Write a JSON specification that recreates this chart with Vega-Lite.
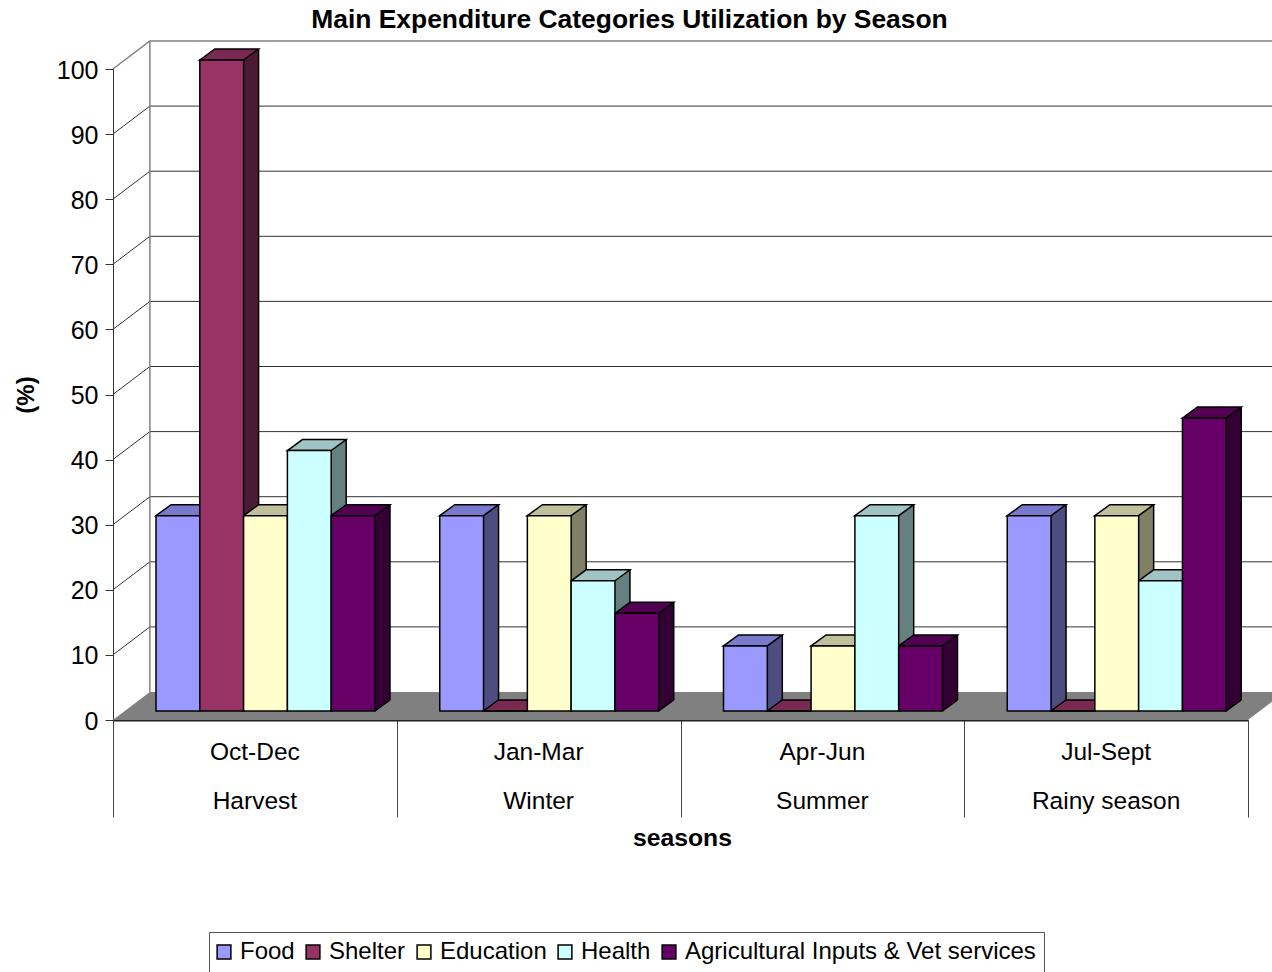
{
"$schema":"https://vega.github.io/schema/vega-lite/v6.json",
"autosize":{"type":"none"},
"width":1135,"height":651,
"padding":{"left":113,"top":69,"right":24,"bottom":252},
"background":"white",
"title":{"text":"Main Expenditure Categories Utilization by Season","font":"Liberation Sans","fontSize":26.4,"fontWeight":"bold","color":"black","anchor":"middle","dx":-51,"offset":5},
"config":{"view":{"stroke":null},"font":"Liberation Sans"},
"data":{"values":[
{"season":"Oct-Dec","category":"Food","value":30},
{"season":"Oct-Dec","category":"Shelter","value":100},
{"season":"Oct-Dec","category":"Education","value":30},
{"season":"Oct-Dec","category":"Health","value":40},
{"season":"Oct-Dec","category":"Agricultural Inputs & Vet services","value":30},
{"season":"Jan-Mar","category":"Food","value":30},
{"season":"Jan-Mar","category":"Shelter","value":0},
{"season":"Jan-Mar","category":"Education","value":30},
{"season":"Jan-Mar","category":"Health","value":20},
{"season":"Jan-Mar","category":"Agricultural Inputs & Vet services","value":15},
{"season":"Apr-Jun","category":"Food","value":10},
{"season":"Apr-Jun","category":"Shelter","value":0},
{"season":"Apr-Jun","category":"Education","value":10},
{"season":"Apr-Jun","category":"Health","value":30},
{"season":"Apr-Jun","category":"Agricultural Inputs & Vet services","value":10},
{"season":"Jul-Sept","category":"Food","value":30},
{"season":"Jul-Sept","category":"Shelter","value":0},
{"season":"Jul-Sept","category":"Education","value":30},
{"season":"Jul-Sept","category":"Health","value":20},
{"season":"Jul-Sept","category":"Agricultural Inputs & Vet services","value":45}
]},
"encoding":{
"x":{"field":"season","type":"nominal","axis":null,"scale":{"type":"band","domain":["Oct-Dec","Jan-Mar","Apr-Jun","Jul-Sept"],"paddingInner":0,"paddingOuter":0}}
},
"layer":[
{"data":{"values":[{"tick":0}]},
 "mark":{"type":"point","filled":true,"shape":"M-142,0L-105,-28L1030,-28L993,0Z","size":4,"fill":"#808080","opacity":1,"stroke":null},
 "encoding":{"x":{"datum":"Oct-Dec","type":"nominal"},"y":{"field":"tick","type":"quantitative","axis":null,"scale":{"domain":[0,100],"nice":false}}}},
{"data":{"values":[{"tick":10},{"tick":20},{"tick":30},{"tick":40},{"tick":50},{"tick":60},{"tick":70},{"tick":80},{"tick":90}]},
 "mark":{"type":"point","filled":false,"shape":"M-142,0L-105,-28L1030,-28","size":4,"stroke":"#333333","strokeWidth":1,"opacity":1},
 "encoding":{"x":{"datum":"Oct-Dec","type":"nominal"},"y":{"field":"tick","type":"quantitative","axis":null}}},
{"data":{"values":[{"tick":100}]},
 "mark":{"type":"point","filled":false,"shape":"M-142,0L-105,-28L1030,-28M-105,-28L-105,623","size":4,"stroke":"#808080","strokeWidth":1.5,"opacity":1},
 "encoding":{"x":{"datum":"Oct-Dec","type":"nominal"},"y":{"field":"tick","type":"quantitative","axis":null}}},
{"mark":{"type":"bar","yOffset":-20,"y2Offset":-20},
 "encoding":{"xOffset":{"field":"category","type":"nominal","scale":{"domain":["Food","Shelter","Education","Health","Agricultural Inputs & Vet services"],"range":[58,277]}},
 "y":{"field":"value","type":"quantitative","stack":null,"axis":null},"y2":{"datum":0},
 "fill":{"field":"category","type":"nominal","legend":null,"scale":{"domain":["Food","Shelter","Education","Health","Agricultural Inputs & Vet services"],"range":["#4D4D80","#4D1A33","#808066","#668080","#330033"]}}}},
{"mark":{"type":"point","filled":true,"shape":"M21.9,0L36.9,-11L21.9,-11Z","size":4,"yOffset":-9,"opacity":1,"stroke":null},
 "encoding":{"xOffset":{"field":"category","type":"nominal","scale":{"domain":["Food","Shelter","Education","Health","Agricultural Inputs & Vet services"],"range":[43,262]}},
 "y":{"datum":0,"type":"quantitative","axis":null},
 "fill":{"field":"category","type":"nominal","legend":null,"scale":{"domain":["Food","Shelter","Education","Health","Agricultural Inputs & Vet services"],"range":["#4D4D80","#4D1A33","#808066","#668080","#330033"]}}}},
{"mark":{"type":"point","filled":false,"shape":"M21.9,0L36.9,-11","size":4,"yOffset":-9,"opacity":1,"stroke":"black","strokeWidth":1.5},
 "encoding":{"xOffset":{"field":"category","type":"nominal","scale":{"domain":["Food","Shelter","Education","Health","Agricultural Inputs & Vet services"],"range":[43,262]}},"y":{"datum":0,"type":"quantitative","axis":null}}},
{"mark":{"type":"rule","yOffset":-20,"y2Offset":-20,"stroke":"black","strokeWidth":1.5},
 "encoding":{"xOffset":{"field":"category","type":"nominal","scale":{"domain":["Food","Shelter","Education","Health","Agricultural Inputs & Vet services"],"range":[79.9,298.9]}},"y":{"field":"value","type":"quantitative","stack":null,"axis":null},"y2":{"datum":0}}},
{"mark":{"type":"point","filled":true,"shape":"M-21.9,0L-6.9,-11L36.9,-11L21.9,0Z","size":4,"yOffset":-9,"opacity":1,"stroke":"black","strokeWidth":1.5},
 "encoding":{"xOffset":{"field":"category","type":"nominal","scale":{"domain":["Food","Shelter","Education","Health","Agricultural Inputs & Vet services"],"range":[43,262]}},"y":{"field":"value","type":"quantitative","stack":null,"axis":null},
 "fill":{"field":"category","type":"nominal","legend":null,"scale":{"domain":["Food","Shelter","Education","Health","Agricultural Inputs & Vet services"],"range":["#7A7ACC","#7A2952","#C0C09A","#A0C4C4","#520052"]}}}},
{"mark":{"type":"bar","yOffset":-9,"y2Offset":-9,"stroke":"black","strokeWidth":1.5},
 "encoding":{"xOffset":{"field":"category","type":"nominal","scale":{"domain":["Food","Shelter","Education","Health","Agricultural Inputs & Vet services"],"range":[43,262]}},
 "x":{"field":"season","type":"nominal","axis":{"title":"seasons","labels":false,"tickBand":"extent","tickSize":97,"tickColor":"#444444","domainColor":"#222222","domainWidth":2,"titleFontSize":24.7,"titleFontWeight":"bold","titleColor":"black","titleY":118,"titleBaseline":"middle","titleX":569,"grid":false}},
 "y":{"field":"value","type":"quantitative","stack":null,"axis":{"title":"(%)","values":[0,10,20,30,40,50,60,70,80,90,100],"grid":false,"tickSize":8,"tickColor":"#333333","domainColor":"#333333","labelFontSize":25,"labelColor":"black","labelPadding":7,"labelOffset":1,"titleFontSize":24,"titleFontWeight":"bold","titleColor":"black","titleX":-87,"titleBaseline":"middle"}},
 "y2":{"datum":0},
 "fill":{"field":"category","type":"nominal","sort":null,"scale":{"domain":["Food","Shelter","Education","Health","Agricultural Inputs & Vet services"],"range":["#9999FF","#993366","#FFFFCC","#CCFFFF","#660066"]},
 "legend":{"title":null,"orient":"none","legendX":96,"legendY":863,"direction":"horizontal","columns":5,"symbolType":"square","symbolSize":190,"symbolStrokeColor":"black","symbolStrokeWidth":1.5,"symbolOffset":-5,"labelFontSize":24,"labelColor":"black","labelOffset":4,"columnPadding":8,"padding":8,"strokeColor":"#555555","fillColor":"white","labelLimit":500}}}},
{"data":{"values":[{"season":"Oct-Dec","period":"Oct-Dec"},{"season":"Jan-Mar","period":"Jan-Mar"},{"season":"Apr-Jun","period":"Apr-Jun"},{"season":"Jul-Sept","period":"Jul-Sept"}]},
 "mark":{"type":"text","fontSize":24.5,"color":"black","yOffset":33,"baseline":"middle"},
 "encoding":{"text":{"field":"period"},"y":{"datum":0,"type":"quantitative","axis":null}}},
{"data":{"values":[{"season":"Oct-Dec","period":"Harvest"},{"season":"Jan-Mar","period":"Winter"},{"season":"Apr-Jun","period":"Summer"},{"season":"Jul-Sept","period":"Rainy season"}]},
 "mark":{"type":"text","fontSize":24.5,"color":"black","yOffset":82,"baseline":"middle"},
 "encoding":{"text":{"field":"period"},"y":{"datum":0,"type":"quantitative","axis":null}}}
],
"resolve":{"scale":{"fill":"independent","xOffset":"independent"},"axis":{"x":"independent","y":"independent"}}
}
